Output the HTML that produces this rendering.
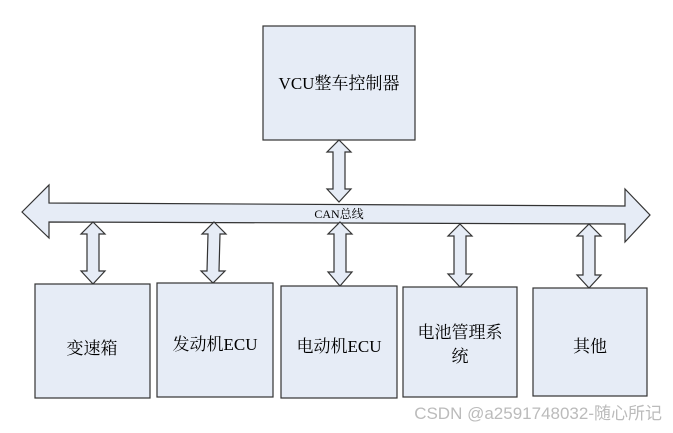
<!DOCTYPE html>
<html><head><meta charset="utf-8"><style>
html,body{margin:0;padding:0;background:#fff;}
svg{display:block;}
text{font-family:"Liberation Serif","Noto Serif CJK SC",serif;fill:#000;}
</style></head><body>
<svg width="673" height="433" viewBox="0 0 673 433" xmlns="http://www.w3.org/2000/svg">
<g fill="#e6ecf6" stroke="#333" stroke-width="1.2">
<rect x="263" y="26" width="152" height="114"/>
<polygon points="22,212 49,185 49,203 625,206 625,189 650,215 625,242 625,224 49,222 49,238"/>
<polygon points="339,140 351,152 345,152 345,189 351,189 339,202 327,189 333,189 333,152 327,152"/>
<polygon points="93,222 105,234 99,234 99,271 105,271 93,284 81,271 87,271 87,234 81,234"/>
<polygon points="214,222 226,234 220,234 219,271 225,271 213,283 201,271 207,271 208,234 202,234"/>
<polygon points="340,222 352,234 346,234 346,272 352,272 340,286 328,272 334,272 334,234 328,234"/>
<polygon points="460,224 472,236 466,236 466,274 472,274 460,287 448,274 454,274 454,236 448,236"/>
<polygon points="589,224 601,236 595,236 595,275 601,275 589,288 577,275 583,275 583,236 577,236"/>
<rect x="35" y="284" width="115" height="114"/>
<rect x="157" y="283" width="116" height="114"/>
<rect x="281" y="286" width="116" height="112"/>
<rect x="403" y="287" width="114" height="110"/>
<rect x="533" y="288" width="114" height="108"/>
</g>
<text x="339" y="89" font-size="17" text-anchor="middle">VCU整车控制器</text>
<text x="339" y="218" font-size="12" text-anchor="middle">CAN总线</text>
<text x="92" y="354" font-size="17" text-anchor="middle">变速箱</text>
<text x="215" y="350" font-size="17" text-anchor="middle">发动机ECU</text>
<text x="339" y="352" font-size="17" text-anchor="middle">电动机ECU</text>
<text x="460" y="338" font-size="17" text-anchor="middle">电池管理系</text>
<text x="460" y="362" font-size="17" text-anchor="middle">统</text>
<text x="590" y="352" font-size="17" text-anchor="middle">其他</text>
<text x="662" y="419" font-size="17" text-anchor="end" style="font-family:'Liberation Sans','Noto Sans CJK SC',sans-serif;fill:#bbb">CSDN @a2591748032-随心所记</text>
</svg>
</body></html>
